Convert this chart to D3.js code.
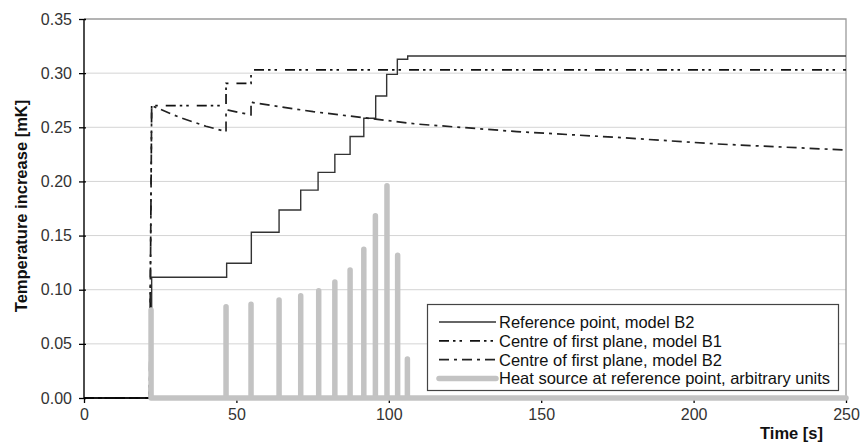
<!DOCTYPE html>
<html lang="en">
<head>
  <meta charset="UTF-8" />
  <title>Temperature increase</title>
  <script src="https://cdn.jsdelivr.net/npm/d3@7/dist/d3.min.js"></script>
  <style>
    body { margin: 0; background: #fff; }
    svg { display: block; font-family: 'Liberation Sans', Arial, sans-serif; }
  </style>
</head>
<body>
  <svg width="860" height="445"></svg>

  <script>
    // Reference point, model B2 (step times and levels)
    const refTimes = [0, 22.2, 46.8, 54.9, 64.0, 71.1, 76.8, 82.3, 87.3, 91.8, 95.7, 99.3, 102.8, 106.2, 250];
    const refValues = [0, 0.1115, 0.1244, 0.153, 0.1736, 0.192, 0.2084, 0.225, 0.2415, 0.2583, 0.2789, 0.2989, 0.3128, 0.3158, 0.3158];

    // Centre of first plane, model B1
    const b1Times = [0, 21.5, 22.2, 46.6, 46.6, 54.8, 54.8, 250];
    const b1Values = [0, 0, 0.270, 0.270, 0.2906, 0.2906, 0.303, 0.303];

    // Centre of first plane, model B2
    const b2Times = [0, 21.5, 22.2, 31.5, 40.0, 46.6, 46.6, 47.3, 54.8, 54.8, 55.5, 75.2, 91.6, 109.2, 142, 174.8, 207.6, 250];
    const b2Values = [0, 0, 0.270, 0.259, 0.251, 0.246, 0.266, 0.2658, 0.2615, 0.2736, 0.2727, 0.2644, 0.2589, 0.253, 0.246, 0.2407, 0.2346, 0.229];

    // Heat source at reference point (arbitrary units)
    const heatTimes = [22.0, 46.6, 54.8, 64.0, 71.1, 77.0, 82.3, 87.3, 91.8, 95.6, 99.4, 102.9, 106.1];
    const heatValues = [0.0813, 0.0843, 0.0865, 0.0905, 0.0945, 0.0991, 0.1071, 0.1182, 0.1373, 0.1683, 0.196, 0.1318, 0.036];

    const xTicks = [0, 50, 100, 150, 200, 250];
    const yTicks = [0, 0.05, 0.10, 0.15, 0.20, 0.25, 0.30, 0.35];

    const legendLabels = [
      'Reference point, model B2',
      'Centre of first plane, model B1',
      'Centre of first plane, model B2',
      'Heat source at reference point, arbitrary units'
    ];

    const svg = d3.select('svg');
    const x = d3.scaleLinear().domain([0, 250]).range([84, 846]);
    const y = d3.scaleLinear().domain([0, 0.35]).range([398, 19]);

    // gridlines
    svg.append('g')
      .selectAll('line')
      .data(yTicks.filter(d => d > 0 && d < 0.35))
      .enter()
      .append('line')
      .attr('x1', x(0)).attr('x2', x(250))
      .attr('y1', d => y(d)).attr('y2', d => y(d))
      .attr('stroke', '#d4d4d4')
      .attr('stroke-width', 1);

    // top and right frame
    svg.append('path')
      .attr('d', `M${x(0)},${y(0.35)}H${x(250)}V${y(0)}`)
      .attr('fill', 'none')
      .attr('stroke', '#9a9a9a')
      .attr('stroke-width', 1.3);

    const line = d3.line().x(d => x(d[0])).y(d => y(d[1]));

    const series = [
      { t: refTimes, v: refValues, dash: null, color: '#333', width: 1.4, curve: d3.curveStepAfter },
      { t: b1Times, v: b1Values, dash: '10,4,2.5,4,2.5,8', color: '#111', width: 1.7, curve: d3.curveLinear },
      { t: b2Times, v: b2Values, dash: '10,5,3,5', color: '#222', width: 1.7, curve: d3.curveLinear }
    ];

    series.forEach(s => {
      svg.append('path')
        .datum(s.t.map((t, i) => [t, s.v[i]]))
        .attr('d', line.curve(s.curve))
        .attr('fill', 'none')
        .attr('stroke', s.color)
        .attr('stroke-width', s.width)
        .attr('stroke-dasharray', s.dash);
    });

    // axes
    const xAxis = svg.append('g')
      .attr('transform', `translate(0,${y(0)})`)
      .call(d3.axisBottom(x).tickValues(xTicks).tickSize(5).tickPadding(6).tickFormat(d3.format('d')));
    const yAxis = svg.append('g')
      .attr('transform', `translate(${x(0)},0)`)
      .call(d3.axisLeft(y).tickValues(yTicks).tickSize(5).tickPadding(7).tickFormat(d3.format('.2f')));

    [xAxis, yAxis].forEach(a => {
      a.select('.domain').attr('stroke', '#000').attr('stroke-width', 1.4);
      a.selectAll('.tick line').attr('stroke', '#000').attr('stroke-width', 1.3);
      a.selectAll('.tick text').attr('fill', '#333').style('font-size', '16px')
        .style('font-family', "'Liberation Sans', Arial, sans-serif");
    });
    xAxis.select('.domain').attr('d', `M${x(0)},0H${x(250)}`);
    yAxis.select('.domain').attr('d', `M0,${y(0.35)}V${y(0)}`);
    yAxis.selectAll('.tick').append('line').attr('x2', 2).attr('stroke', '#000').attr('stroke-width', 1.3);

    // heat source spikes
    const heatPts = [];
    heatTimes.forEach((t, i) => {
      heatPts.push([t, 0], [t, heatValues[i]], [t, 0]);
    });
    heatPts.push([250, 0]);
    svg.append('path')
      .datum(heatPts)
      .attr('d', line.curve(d3.curveLinear))
      .attr('fill', 'none')
      .attr('stroke', '#c3c3c3')
      .attr('stroke-width', 5.5)
      .attr('stroke-linecap', 'round')
      .attr('stroke-linejoin', 'round');

    // axis titles
    svg.append('text')
      .attr('x', 823).attr('y', 439)
      .attr('text-anchor', 'end')
      .style('font-size', '16.5px').style('font-weight', 'bold')
      .attr('fill', '#111')
      .text('Time [s]');

    svg.append('text')
      .attr('transform', 'translate(27,206) rotate(-90)')
      .attr('text-anchor', 'middle')
      .style('font-size', '16.5px').style('font-weight', 'bold')
      .attr('fill', '#111')
      .text('Temperature increase [mK]');

    // legend
    const legend = svg.append('g');
    legend.append('rect')
      .attr('x', 427.5).attr('y', 304.5)
      .attr('width', 411).attr('height', 86)
      .attr('fill', '#fff')
      .attr('stroke', '#444')
      .attr('stroke-width', 1.2);

    const legendStyles = [
      { color: '#333', width: 1.4, dash: null },
      { color: '#111', width: 1.7, dash: '10,4,2.5,4,2.5,8' },
      { color: '#222', width: 1.7, dash: '10,5,3,5' },
      { color: '#c3c3c3', width: 5.5, dash: null }
    ];

    legendLabels.forEach((lab, i) => {
      const cy = 322 + i * 18.8;
      const st = legendStyles[i];
      legend.append('line')
        .attr('x1', 439).attr('x2', 496)
        .attr('y1', cy).attr('y2', cy)
        .attr('stroke', st.color)
        .attr('stroke-width', st.width)
        .attr('stroke-linecap', i === 3 ? 'round' : 'butt')
        .attr('stroke-dasharray', st.dash);
      legend.append('text')
        .attr('x', 499).attr('y', cy + 6)
        .style('font-size', '16.5px')
        .attr('fill', '#111')
        .text(lab);
    });
  </script>
</body>
</html>
